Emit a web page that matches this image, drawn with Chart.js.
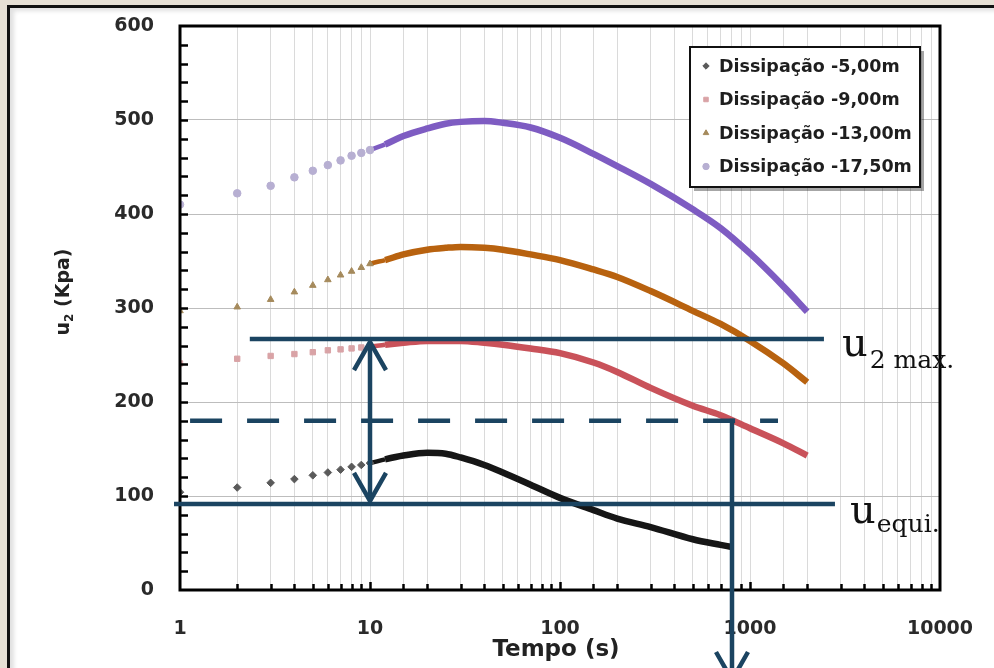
<!DOCTYPE html>
<html><head><meta charset="utf-8">
<script src="https://cdn.jsdelivr.net/npm/chart.js@4"></script>
<style>
html,body{margin:0;padding:0;background:#e6e0d5;width:994px;height:668px;overflow:hidden;}
#panel{position:absolute;left:7px;top:5px;width:1000px;height:720px;background:#fff;border-left:3px solid #111;border-top:3px solid #111;box-shadow:inset 4px 3px 4px rgba(0,0,0,0.12);}
#wrap{position:absolute;left:0;top:0;width:994px;height:668px;}
</style></head><body>
<div id="panel"></div>
<div id="wrap"><canvas id="c" width="994" height="668"></canvas></div>
<script>
// ---- data ----
const seriesLabels = ['Dissipação -5,00m','Dissipação -9,00m','Dissipação -13,00m','Dissipação -17,50m'];
const timesShort = [1,2,3,4,5,6,7,8,9,10,12,15,20,25,30,40,50,70,100,150,200,300,500,700,790];
const timesLong  = [1,2,3,4,5,6,7,8,9,10,12,15,20,25,30,40,50,70,100,150,200,300,500,700,1000,1500,2000];
const values5m   = [104,109,114,118,122,125,128,131,133,135,139,143,146,145,141,133,125,112,98,85,76,67,54,48,46];
const values9m   = [241,246,249,251,253,255,256,257,258,259,261,263,265,265,265,263,261,257,252,242,232,215,196,186,172,156,143];
const values13m  = [297,301,309,317,324,330,335,339,343,347,351,357,362,364,365,364,362,357,351,341,333,318,297,283,265,241,221];
const values17m  = [410,422,430,439,446,452,457,462,465,468,474,483,491,496,498,499,497,492,481,464,451,432,405,385,358,323,296];
const xTickLabels = [1,10,100,1000,10000];
const yTickLabels = [0,100,200,300,400,500,600];

// annotation values (data units)
const u2MaxValue = 267, uEquiValue = 91.5, dashedValue = 180;
const arrowTime = 10, dropTime = 804;

const lineColors   = ['#161616','#c9525a','#b8620f','#7e5cc2'];
const markerColors = ['#5a5a5a','#d9a3a6','#a58a5c','#b7afd2'];
const markerStyles = ['rectRot','rect','triangle','circle'];

function mk(i, times, vals){
  const col = lineColors[i];
  return {
    label: seriesLabels[i],
    data: times.map((t,k)=>({x:t,y:vals[k]})),
    showLine: true,
    borderColor: col,
    borderWidth: 6.5,
    cubicInterpolationMode: 'monotone',
    pointStyle: markerStyles[i],
    pointRadius: c => (c.raw && c.raw.x <= 10) ? 3.8 : 0,
    pointHoverRadius: 0,
    pointBackgroundColor: markerColors[i],
    pointBorderColor: markerColors[i],
    pointBorderWidth: 1,
    backgroundColor: markerColors[i],
    segment: {
      borderColor: c => c.p0.parsed.x < 10 ? 'rgba(0,0,0,0)' : col,
      borderWidth: c => c.p0.parsed.x < 12 ? 4.5 : 6.5
    }
  };
}

function isDecade(v){ const l = Math.log10(v); return Math.abs(l-Math.round(l))<1e-9; }

const deco = {
  id:'deco',
  afterDatasetsDraw(chart){
    const {ctx, chartArea:a, scales:{x,y}} = chart;
    ctx.save();
    // inward tick marks
    ctx.strokeStyle='#000'; ctx.lineWidth=2.5;
    y.ticks.forEach(t=>{ if(t.value<=0||t.value>=600) return; const py=Math.round(y.getPixelForValue(t.value))+0.5;
      ctx.beginPath(); ctx.moveTo(a.left,py); ctx.lineTo(a.left+8,py); ctx.stroke();});
    x.ticks.forEach(t=>{ if(t.value<=1||t.value>=10000) return; const px=Math.round(x.getPixelForValue(t.value))+0.5;
      ctx.beginPath(); ctx.moveTo(px,a.bottom); ctx.lineTo(px,a.bottom-(isDecade(t.value)?8:6)); ctx.stroke();});
    // plot frame
    ctx.lineWidth=3; ctx.strokeStyle='#000';
    ctx.strokeRect(a.left,a.top,a.right-a.left,a.bottom-a.top);

    // axis titles
    ctx.fillStyle='#222';
    ctx.font='bold 23px "DejaVu Sans"'; ctx.textAlign='center'; ctx.textBaseline='middle';
    ctx.fillText('Tempo (s)', 556, 650);
    ctx.save();
    ctx.translate(62, 292); ctx.rotate(-Math.PI/2);
    const f1='bold 19px "DejaVu Sans"', f2='bold 12px "DejaVu Sans"';
    ctx.font=f1; const wu=ctx.measureText('u').width, wr=ctx.measureText(' (Kpa)').width;
    ctx.font=f2; const w2=ctx.measureText('2').width;
    let sx=-(wu+w2+wr)/2; ctx.textAlign='left'; ctx.textBaseline='alphabetic';
    ctx.font=f1; ctx.fillText('u',sx,7); sx+=wu;
    ctx.font=f2; ctx.fillText('2',sx,11); sx+=w2;
    ctx.font=f1; ctx.fillText(' (Kpa)',sx,7);
    ctx.restore();

    // annotations
    const navy='#1b4461';
    ctx.strokeStyle=navy; ctx.lineWidth=4.5; ctx.lineCap='butt';
    const hline=(v,t0,t1,dash)=>{ const py=y.getPixelForValue(v); ctx.setLineDash(dash||[]);
      ctx.beginPath(); ctx.moveTo(x.getPixelForValue(t0),py); ctx.lineTo(x.getPixelForValue(t1),py); ctx.stroke(); ctx.setLineDash([]); };
    hline(u2MaxValue, 2.33, 2450);
    hline(uEquiValue, 0.93, 2800);
    hline(dashedValue, 1.13, 1404, [32,25]);
    // double arrow
    const ax=x.getPixelForValue(arrowTime), yTop=y.getPixelForValue(u2MaxValue)+3, yBot=y.getPixelForValue(uEquiValue)-3;
    ctx.beginPath(); ctx.moveTo(ax,yTop+2); ctx.lineTo(ax,yBot-2); ctx.stroke();
    ctx.lineJoin='miter';
    ctx.beginPath(); ctx.moveTo(ax-16,yTop+28); ctx.lineTo(ax,yTop); ctx.lineTo(ax+16,yTop+28); ctx.stroke();
    ctx.beginPath(); ctx.moveTo(ax-16,yBot-28); ctx.lineTo(ax,yBot); ctx.lineTo(ax+16,yBot-28); ctx.stroke();
    // drop arrow
    const dx=x.getPixelForValue(dropTime), dTop=y.getPixelForValue(dashedValue)-2, dBot=680;
    ctx.beginPath(); ctx.moveTo(dx,dTop); ctx.lineTo(dx,dBot); ctx.stroke();
    ctx.beginPath(); ctx.moveTo(dx-16,dBot-28); ctx.lineTo(dx,dBot); ctx.lineTo(dx+16,dBot-28); ctx.stroke();

    // text labels
    ctx.fillStyle='#111'; ctx.textAlign='left'; ctx.textBaseline='alphabetic';
    ctx.font='40px "DejaVu Serif"'; ctx.fillText('u',842,356);
    let w=ctx.measureText('u').width;
    ctx.font='25px "DejaVu Serif"'; ctx.fillText('2 max.',842+w+2,368);
    ctx.font='40px "DejaVu Serif"'; ctx.fillText('u',850,523);
    w=ctx.measureText('u').width;
    ctx.font='25px "DejaVu Serif"'; ctx.fillText('equi.',850+w+1,532);

    // legend
    const L=690, T=47, W=230, H=140;
    ctx.fillStyle='rgba(0,0,0,0.35)'; ctx.fillRect(L+4,T+4,W,H);
    ctx.fillStyle='#fff'; ctx.fillRect(L,T,W,H);
    ctx.strokeStyle='#111'; ctx.lineWidth=2; ctx.strokeRect(L,T,W,H);
    ctx.font='bold 17.5px "DejaVu Sans"'; ctx.textBaseline='middle';
    chart.data.datasets.forEach((ds,i)=>{
      const cy=T+19+i*33.5;
      ctx.fillStyle=markerColors[i]; ctx.strokeStyle=markerColors[i]; ctx.lineWidth=1;
      Chart.helpers.drawPoint(ctx,{pointStyle:markerStyles[i],radius:3.2,borderWidth:1},L+16,cy);
      ctx.fillStyle='#1e1e1e'; ctx.fillText(ds.label, L+29, cy+1);
    });
    ctx.restore();
  }
};

new Chart(document.getElementById('c'), {
  type:'scatter',
  data:{datasets:[mk(0,timesShort,values5m),mk(1,timesLong,values9m),mk(2,timesLong,values13m),mk(3,timesLong,values17m)]},
  options:{
    responsive:false, animation:false, devicePixelRatio:1,
    layout:{padding:{left:0,top:26,right:54,bottom:0}},
    plugins:{legend:{display:false}, tooltip:{enabled:false}},
    scales:{
      x:{type:'logarithmic', min:1, max:10000,
        border:{display:false},
        grid:{color:'#dadada', lineWidth:1, drawTicks:false},
        ticks:{autoSkip:false, maxRotation:0, minRotation:0, padding:28, color:'#2a2a2a',
          font:{family:'DejaVu Sans', weight:'bold', size:19},
          callback:v=> xTickLabels.some(d=>Math.abs(d-v)<1e-6) ? String(v) : ''},
        afterFit:s=>{ s.height=78; s.paddingLeft=0; s.paddingRight=0; }
      },
      y:{type:'linear', min:0, max:600,
        border:{display:false},
        grid:{color:c=> (c.tick && c.tick.value%100===0) ? '#bdbdbd' : 'rgba(0,0,0,0)', lineWidth:1, drawTicks:false},
        ticks:{stepSize:20, autoSkip:false, padding:26, color:'#2a2a2a',
          font:{family:'DejaVu Sans', weight:'bold', size:19},
          callback:v=> yTickLabels.includes(v) ? String(v) : ''},
        afterFit:s=>{ s.width=180; s.paddingTop=0; s.paddingBottom=0; }
      }
    }
  },
  plugins:[deco]
});
</script>
</body></html>
